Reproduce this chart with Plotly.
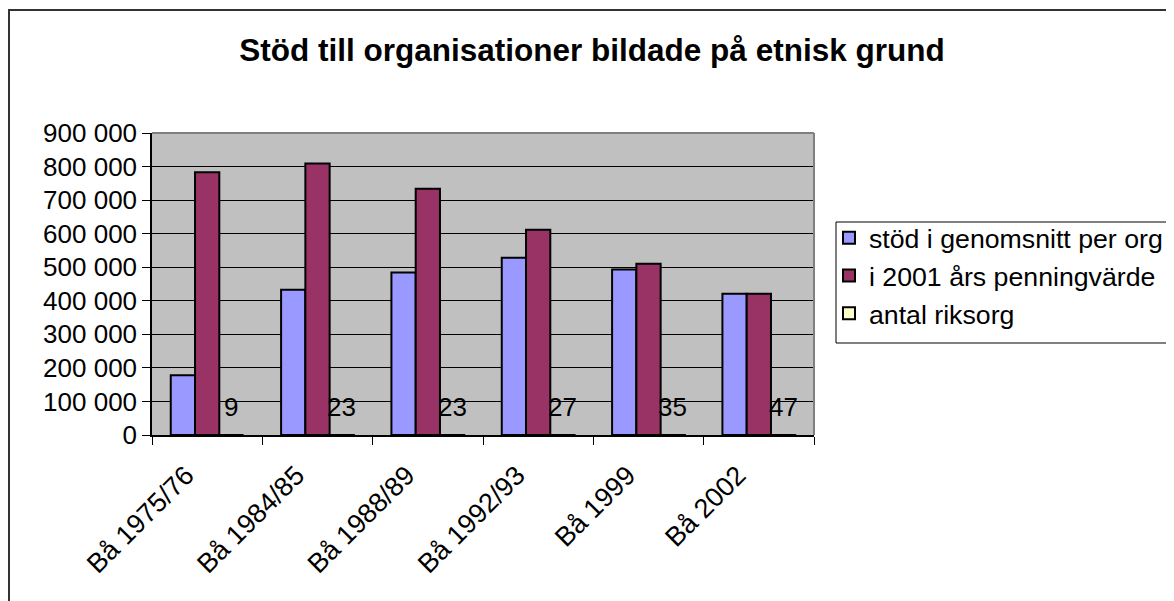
import plotly.graph_objects as go

categories = ["Bå 1975/76", "Bå 1984/85", "Bå 1988/89", "Bå 1992/93", "Bå 1999", "Bå 2002"]
stod_per_org = [178000, 433000, 484000, 528000, 493000, 421000]
penningvarde_2001 = [783000, 809000, 734000, 612000, 510000, 421000]
antal_riksorg = [9, 23, 23, 27, 35, 47]
y_ticks = [0, 100000, 200000, 300000, 400000, 500000, 600000, 700000, 800000, 900000]

FONT = "Liberation Sans, Arial, sans-serif"
OFF = 8  # page body margin
PAGE_W, PAGE_H = 1174, 601
W, H = PAGE_W - OFF, PAGE_H - OFF
# plot area in page pixels
PL, PR, PT, PB = 152, 814, 133, 435
L, T = PL - OFF, PT - OFF
plot_w = PR - PL
plot_h = PB - PT
R = W - L - plot_w
B = H - T - plot_h
BARGAP = 0.34
bar_px = plot_w / len(categories) * (1 - BARGAP) / 3

def px_x(p):
    return (p - PL) / plot_w

def px_y(p):
    return (PB - p) / plot_h

fig = go.Figure()
fig.add_trace(go.Bar(name="stöd i genomsnitt per org", x=categories, y=stod_per_org,
                     marker=dict(color="#9999FF", line=dict(color="black", width=2))))
fig.add_trace(go.Bar(name="i 2001 års penningvärde", x=categories, y=penningvarde_2001,
                     marker=dict(color="#993366", line=dict(color="black", width=2))))
fig.add_trace(go.Bar(name="antal riksorg", x=categories, y=antal_riksorg,
                     marker=dict(color="#FFFFCC", line=dict(color="black", width=2))))

annotations = []
for c, v in zip(categories, antal_riksorg):
    annotations.append(dict(x=c, y=v, xref="x", yref="y", text=str(v), showarrow=False,
                            xshift=bar_px, yshift=28, yanchor="middle", xanchor="center",
                            font=dict(family=FONT, size=26, color="black")))

shapes = [
    # plot area gray top & right border
    dict(type="line", xref="paper", yref="paper", x0=0, x1=1, y0=1, y1=1,
         line=dict(color="#808080", width=2)),
    dict(type="line", xref="paper", yref="paper", x0=1, x1=1, y0=0, y1=1,
         line=dict(color="#808080", width=2)),
    # chart outer border
    dict(type="rect", xref="paper", yref="paper", x0=px_x(9), x1=px_x(1190),
         y0=px_y(620), y1=px_y(10), line=dict(color="#333333", width=2)),
    # legend box
    dict(type="rect", xref="paper", yref="paper", x0=px_x(836), x1=px_x(1190),
         y0=px_y(343), y1=px_y(222), line=dict(color="black", width=1)),
]

fig.update_layout(
    width=W, height=H,
    margin=dict(l=L, r=R, t=T, b=B, pad=0, autoexpand=False),
    paper_bgcolor="white",
    plot_bgcolor="#C0C0C0",
    barmode="group",
    bargap=BARGAP,
    bargroupgap=0,
    separators=", ",
    font=dict(family=FONT, size=26, color="black"),
    title=dict(text="<b>Stöd till organisationer bildade på etnisk grund</b>",
               x=(592 - OFF) / W, xref="container", xanchor="center",
               y=1 - (50 - OFF) / H, yref="container", yanchor="middle",
               font=dict(family=FONT, size=31.5, color="black")),
    legend=dict(x=px_x(829), xanchor="left", y=px_y(214), yanchor="top",
                bgcolor="rgba(0,0,0,0)", borderwidth=0,
                font=dict(family=FONT, size=26.7, color="black"),
                tracegroupgap=0),
    showlegend=True,
    annotations=annotations,
    shapes=shapes,
)
fig.update_xaxes(type="category", tickangle=-45, tickson="boundaries",
                 ticks="outside", ticklen=8, tickcolor="black", tickwidth=1,
                 ticklabelshift=-21, ticklabelstandoff=12,
                 showline=True, linecolor="black", linewidth=1.5,
                 showgrid=False, tickfont=dict(family=FONT, size=27, color="black"))
fig.update_yaxes(range=[0, 900000], tickvals=y_ticks, tickformat=",d",
                 ticks="outside", ticklen=8, tickcolor="black", tickwidth=1,
                 showline=True, linecolor="black", linewidth=1.5,
                 showgrid=True, gridcolor="black", gridwidth=1, zeroline=False,
                 tickfont=dict(family=FONT, size=26, color="black"))

fig.write_html("out.html")
